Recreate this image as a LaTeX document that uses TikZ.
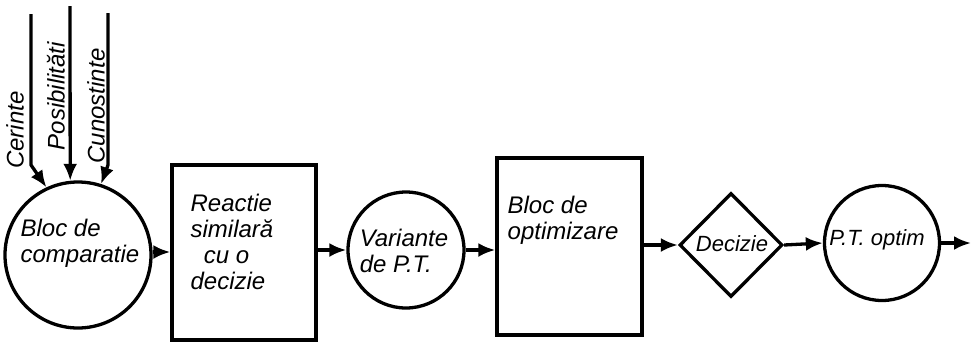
\documentclass[tikz,border=0pt]{standalone}
\usepackage{fontspec}
\setmainfont{Liberation Sans}
\usetikzlibrary{arrows.meta,shapes.geometric}
\begin{document}
\begin{tikzpicture}[x=1pt,y=-1pt,
  line width=3.3pt,
  flow/.style={-{Latex[length=17pt,width=14pt]}},
  roundblk/.style={draw,circle,inner sep=0pt},
  rectblk/.style={draw,rectangle,inner sep=0pt},
  choice/.style={draw,diamond,inner sep=0pt,minimum width=103pt,minimum height=104pt},
  hand/.style={font=\fontsize{24}{26}\selectfont\itshape,inner sep=0pt,align=left},
  smallhand/.style={hand,font=\fontsize{22}{24}\selectfont\itshape}]
\useasboundingbox (0,0) rectangle (971,341);

% blocks of the chain
\node[roundblk,minimum size=146pt] (cmp) at (78,255) {};
\node[rectblk,minimum width=144pt,minimum height=175pt] (react) at (244,252.5) {};
\node[roundblk,minimum size=116pt] (var) at (406,250) {};
\node[rectblk,minimum width=145pt,minimum height=177pt] (opt) at (569.5,246.5) {};
\node[choice] (dec) at (731,245) {};
\node[roundblk,minimum size=115pt] (best) at (882,243) {};

% texts inside the blocks
\node[hand] (tcmp) at (80,243) {Bloc de\\comparatie};
\node[hand,anchor=north west] (treact) at (189,192) {Reactie\\similară\\\ \ cu o\\decizie};
\node[hand] (tvar) at (404,251) {Variante\\de P.T.};
\node[hand,anchor=north west] (topt) at (506,194) {Bloc de\\optimizare};
\node[smallhand] (tdec) at (732,244) {Decizie};
\node[smallhand] (tbest) at (877,240) {P.T. optim};

% inputs of the comparison block
\coordinate (inA) at (31,14);
\coordinate (inAb) at (31,165);
\coordinate (inB) at (70,6);
\coordinate (inC) at (108,13);
\coordinate (inCb) at (108,165);
\draw[flow] (inA) -- (inAb) -- (cmp.115);
\draw[flow] (inB) -- (cmp.96);
\draw[flow] (inC) -- (inCb) -- (cmp.72);
\node[hand,rotate=90] (lA) at (15,130) {Cerinte};
\node[hand,rotate=90] (lB) at (56,96) {Posibilităti};
\node[hand,rotate=90] (lC) at (96,106) {Cunostinte};

% connections along the chain
\coordinate (out) at (971,243);
\draw[flow] (cmp.east |- 0,252) -- (react.west |- 0,252);
\draw[flow] (react.east |- var.west) -- (var.west);
\draw[flow] (var.east) -- (var.east -| opt.west);
\draw[flow] (dec.west -| opt.east) -- (dec.west);
\draw[flow] (dec.east) -- (best.west);
\draw[flow] (best.east) -- (out);
\end{tikzpicture}
\end{document}
